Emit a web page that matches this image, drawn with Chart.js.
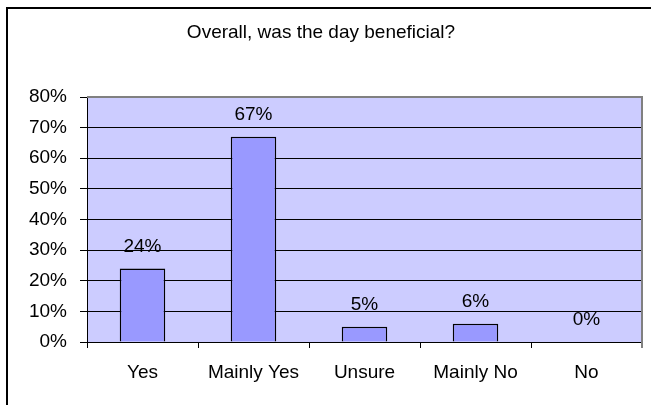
<!DOCTYPE html>
<html lang="en">
<head>
  <meta charset="UTF-8" />
  <title>Overall, was the day beneficial?</title>
  <script src="https://cdn.jsdelivr.net/npm/chart.js"></script>
  <style>
    html, body {
      margin: 0;
      background: white;
      overflow: hidden;
    }

    .chart-box {
      position: relative;
      width: 651px;
      height: 405px;
    }
  </style>
</head>
<body>
  <div class="chart-box">
    <canvas id="dayChart"></canvas>
  </div>

  <script>
    // values (percent of answers)
    const categories = ['Yes', 'Mainly Yes', 'Unsure', 'Mainly No', 'No'];
    const answers = [24, 67, 5, 6, 0];
    const yTicks = [0, 10, 20, 30, 40, 50, 60, 70, 80];

    const labelFont = { family: "'Liberation Sans', Arial, sans-serif", size: 19 };

    // frame, plot background and the grey top/right edge of the plot
    const frame = {
      id: 'frame',
      beforeDraw(chart) {
        const c = chart.ctx;
        const a = chart.chartArea;
        c.save();
        c.fillStyle = '#fff';
        c.fillRect(0, 0, chart.width, chart.height);
        c.fillStyle = '#000';
        c.fillRect(6, 7, chart.width, 2);
        c.fillRect(6, 7, 2, chart.height);
        c.fillStyle = '#ccccff';
        c.fillRect(a.left, a.top, a.right - a.left, a.bottom - a.top);
        c.restore();
      },
      afterDatasetsDraw(chart) {
        const c = chart.ctx;
        const a = chart.chartArea;
        c.save();
        c.strokeStyle = '#808080';
        c.lineWidth = 2;
        c.beginPath();
        c.moveTo(a.left, a.top);
        c.lineTo(a.right, a.top);
        c.lineTo(a.right, a.bottom + 6);
        c.stroke();

        // value labels above bars
        const meta = chart.getDatasetMeta(0);
        c.fillStyle = '#000';
        c.font = labelFont.size + 'px ' + labelFont.family;
        c.textAlign = 'center';
        c.textBaseline = 'middle';
        meta.data.forEach((bar, i) => {
          c.fillText(answers[i] + '%', bar.x, bar.y - 22);
        });
        c.restore();
      }
    };

    new Chart(document.getElementById('dayChart'), {
      type: 'bar',
      data: {
        labels: categories,
        datasets: [{
          data: answers,
          backgroundColor: '#9999ff',
          borderColor: '#000',
          borderWidth: 1.5,
          barPercentage: 0.41,
          categoryPercentage: 1
        }]
      },
      options: {
        responsive: true,
        maintainAspectRatio: false,
        animation: false,
        layout: { padding: { left: 0, right: 9, top: 0, bottom: 0 } },
        plugins: {
          legend: { display: false },
          tooltip: { enabled: false },
          title: {
            display: true,
            text: 'Overall, was the day beneficial?',
            color: '#000',
            font: { family: labelFont.family, size: 19, weight: 'normal' },
            padding: { top: 21.6, bottom: 52.6 }
          }
        },
        scales: {
          x: {
            grid: {
              offset: true,
              drawOnChartArea: false,
              drawTicks: true,
              tickLength: 6,
              color: '#000'
            },
            border: { color: '#000', width: 1 },
            ticks: { color: '#000', font: labelFont, padding: 13, maxRotation: 0 },
            afterFit(scale) { scale.height = 63; }
          },
          y: {
            min: 0,
            max: 80,
            afterBuildTicks(scale) {
              scale.ticks = yTicks.map(v => ({ value: v }));
            },
            grid: {
              color: ctx => ctx.tick && ctx.tick.value === 80 ? '#808080' : '#000',
              tickColor: '#000',
              tickLength: 7,
              lineWidth: 1
            },
            border: { color: '#000', width: 1 },
            ticks: {
              color: '#000',
              font: labelFont,
              padding: 13,
              callback: v => v + '%'
            },
            afterFit(scale) { scale.width = 87; }
          }
        }
      },
      plugins: [frame]
    });
  </script>
</body>
</html>
